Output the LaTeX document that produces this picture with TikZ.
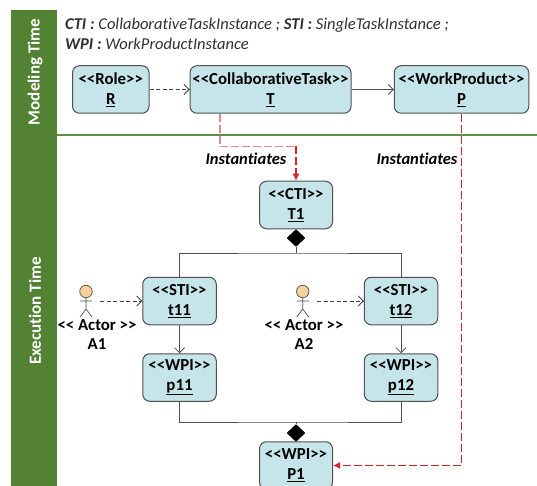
\documentclass[tikz,border=0pt]{standalone}
\usepackage{fontspec}
\setmainfont[Ligatures=NoCommon]{Carlito}
\usetikzlibrary{arrows.meta,shapes.geometric}
\definecolor{barg}{HTML}{548235}
\definecolor{lineg}{HTML}{5F8F45}
\definecolor{boxf}{HTML}{C5E5EA}
\definecolor{boxd}{HTML}{505050}
\definecolor{headf}{HTML}{F7D09C}
\definecolor{redd}{HTML}{D8232E}
\definecolor{pinkd}{HTML}{E8888E}
\definecolor{notegray}{HTML}{303030}
\tikzset{
  x=1pt,y=-1pt,
  inst/.style={draw=boxd,line width=1pt,fill=boxf,rounded corners=7pt,align=center,inner sep=0pt,
    font=\fontsize{16.8}{20}\selectfont\bfseries,text=black,minimum height=47.5pt},
  open/.style={-{Straight Barb[length=5pt,width=10pt,line width=0.8pt]}},
  dep/.style={open,draw=boxd!85!black,line width=1pt,dash pattern=on 4pt off 2.5pt},
  assoc/.style={open,draw=boxd,line width=1pt},
  frameline/.style={draw=boxd,line width=1pt},
  inst2/.style={-{Latex[length=7pt,width=7pt]},draw=redd,line width=1.2pt,dash pattern=on 8pt off 3pt},
  comp/.style={diamond,draw=black,fill=black,inner sep=0pt,minimum width=18pt,minimum height=17pt},
  barlabel/.style={text=white,font=\fontsize{17}{18}\selectfont\bfseries,rotate=90},
  instlabel/.style={font=\fontsize{16.5}{18}\selectfont\bfseries\itshape,text=black},
  actorlabel/.style={font=\fontsize{16.8}{18}\selectfont\bfseries,text=black},
  notelabel/.style={font=\fontsize{16.5}{18}\selectfont\itshape,text=notegray,anchor=west,inner sep=0pt},
  limb/.style={draw=boxd,line width=0.7pt},
  head/.style={circle,draw=boxd,line width=0.7pt,fill=headf,minimum size=12.5pt,inner sep=0pt},
}
\begin{document}
\begin{tikzpicture}
\useasboundingbox (0,0) rectangle (537,486);
\clip (0,0) rectangle (537,486);
% lane bar and divider
\fill[barg] (11,10) rectangle (57,486);
\draw[lineg,line width=1.2pt] (57,135) -- (537,135);
\node[barlabel] (lm) at (35,72) {Modeling Time};
\node[barlabel] (le) at (35,311) {Execution Time};
% legend
\node[notelabel] (n1) at (65,25) {\textbf{CTI :} CollaborativeTaskInstance ; \textbf{STI :} SingleTaskInstance ;};
\node[notelabel] (n2) at (65,44) {\textbf{WPI :} WorkProductInstance};
% modelling row
\node[inst,minimum width=76.5pt] (R) at (110.75,89.5) {<{}<Role>{}>\\\underline{R}};
\node[inst,minimum width=161pt] (T) at (270.5,89.5) {<{}<CollaborativeTask>{}>\\\underline{T}};
\node[inst,minimum width=134.5pt] (P) at (461.5,89.5) {<{}<WorkProduct>{}>\\\underline{P}};
% execution
\node[inst,minimum width=73pt] (T1) at (296,205) {<{}<CTI>{}>\\\underline{T1}};
\node[inst,minimum width=73.5pt] (t11) at (179.5,301) {<{}<STI>{}>\\\underline{t11}};
\node[inst,minimum width=73.5pt] (p11) at (179.5,377.5) {<{}<WPI>{}>\\\underline{p11}};
\node[inst,minimum width=73.5pt] (t12) at (401,301) {<{}<STI>{}>\\\underline{t12}};
\node[inst,minimum width=73.5pt] (p12) at (401,377.5) {<{}<WPI>{}>\\\underline{p12}};
\node[inst,minimum width=73pt] (P1) at (296,465.5) {<{}<WPI>{}>\\\underline{P1}};
% composition diamonds
\node[comp] (d1) at (296,238) {};
\node[comp] (d2) at (296,433) {};
% composition lines
\coordinate (j1) at (296,253);
\coordinate (j2) at (296,422);
\draw[frameline] (d1.south) -- (j1);
\draw[frameline] (t11.north) |- (j1) -| (t12.north);
\draw[frameline] (d2.north) -- (j2);
\draw[frameline] (p11.south) |- (j2) -| (p12.south);
% actors
\node[head] (h1) at (86,291.5) {};
\coordinate (b1) at (86,309);
\draw[limb] (h1.south) -- (b1) (80,301) -- (92,301) (80,317) -- (b1) -- (92,317);
\node[actorlabel] (a1s) at (97,325) {<{}< Actor >{}>};
\node[actorlabel] (a1n) at (97,344) {A1};
\node[head] (h2) at (302.7,291.5) {};
\coordinate (b2) at (302.7,309);
\draw[limb] (h2.south) -- (b2) (296.7,301) -- (308.7,301) (296.7,317) -- (b2) -- (308.7,317);
\node[actorlabel] (a2s) at (304,325) {<{}< Actor >{}>};
\node[actorlabel] (a2n) at (304,344) {A2};
% flows
\draw[dep] (R.east) -- (T.west);
\draw[assoc] (T.east) -- (P.west);
\draw[dep] ([xshift=14pt]h1.center |- t11.west) -- (t11.west);
\draw[dep] ([xshift=14.5pt]h2.center |- t12.west) -- (t12.west);
\draw[assoc] (t11.south) -- (p11.north);
\draw[assoc] (t12.south) -- (p12.north);
% instantiation
\draw[draw=pinkd,line width=1.2pt,dash pattern=on 8pt off 3pt] ([xshift=-50.5pt]T.south) |- ++(76,33);
\draw[inst2] (296,146) -- (T1.north);
\draw[inst2] (P.south) |- (P1.east |- 0,465.5);
\node[instlabel] (i1) at (246,159) {Instantiates};
\node[instlabel] (i2) at (417,159) {Instantiates};
\end{tikzpicture}
\end{document}
